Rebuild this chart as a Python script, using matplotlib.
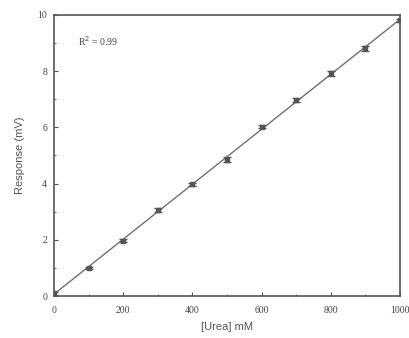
"""Calibration plot: response vs urea concentration."""
import matplotlib
matplotlib.use('Agg')
import matplotlib.pyplot as plt
import numpy as np
from matplotlib.ticker import MultipleLocator

UREA = [0, 100, 200, 300, 400, 500, 600, 700, 800, 900, 1000]
RESPONSE = [0.1, 1.0, 1.97, 3.07, 3.97, 4.85, 6.03, 6.97, 7.92, 8.82, 9.8]
ERROR = [0.06, 0.05, 0.06, 0.07, 0.06, 0.09, 0.06, 0.06, 0.08, 0.09, 0.06]
X_TICKS = [0, 200, 400, 600, 800, 1000]
Y_TICKS = [0, 2, 4, 6, 8, 10]

fig = plt.figure(figsize=(4.09, 3.38), dpi=100)
ax = fig.add_axes([0.132, 0.124, 0.846, 0.832])

# Linear fit line
coef = np.polyfit(UREA, RESPONSE, 1)
xs = np.array([0, 1000])
ax.plot(xs, np.polyval(coef, xs), color='#707070', lw=1.0, zorder=2)

ax.errorbar(UREA, RESPONSE, yerr=ERROR, fmt='s', ms=3.5, color='#555555',
            ecolor='#555555', elinewidth=0.8, capsize=3, zorder=3)

ax.set_xlim(0, 1000)
ax.set_ylim(0, 10)
ax.set_xticks(X_TICKS)
ax.set_yticks(Y_TICKS)
ax.xaxis.set_minor_locator(MultipleLocator(100))
ax.yaxis.set_minor_locator(MultipleLocator(1))
ax.tick_params(which='both', direction='in', colors='#555555',
               labelcolor='#444444', labelsize=7)
ax.tick_params(which='major', length=3)
ax.tick_params(which='minor', length=1.5)
ax.tick_params(axis='x', pad=7)
ax.tick_params(axis='y', pad=5)
for lbl in ax.get_xticklabels() + ax.get_yticklabels():
    lbl.set_family('Liberation Serif')
for sp in ax.spines.values():
    sp.set_color('#555555')
    sp.set_linewidth(1.2)

ax.set_xlabel('[Urea] mM', fontsize=8, family='Liberation Sans',
              color='#555555', labelpad=5)
ax.set_ylabel('Response (mV)', fontsize=8, family='Liberation Sans',
              color='#555555', labelpad=9)
ax.text(0.07, 0.89, 'R$^2$ = 0.99', transform=ax.transAxes, fontsize=7,
        family='Liberation Serif', color='#444444')

fig.savefig('out.png', dpi=100)
